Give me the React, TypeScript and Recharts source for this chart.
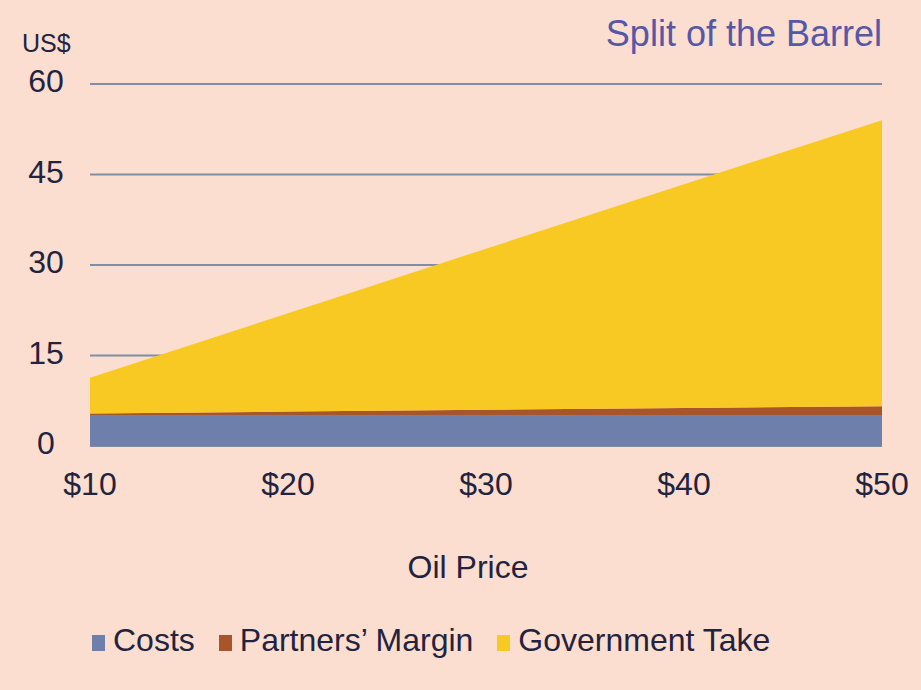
import React from "react";
import {
  AreaChart,
  Area,
  XAxis,
  YAxis,
  CartesianGrid,
  Legend,
  Label,
} from "recharts";

const oilPrices = [10, 20, 30, 40, 50];
const costs = [5, 5, 5, 5, 5];
const partnersMargin = [0.4, 0.7, 1.0, 1.3, 1.6];
const governmentTake = [5.9, 16.3, 26.7, 37.1, 47.4];
const yTicks = [0, 15, 30, 45, 60];

const seriesNames = ["Costs", "Partners\u2019 Margin", "Government Take"];
const seriesColors = ["#6f7fab", "#a8552b", "#f8c823"];

const data = oilPrices.map((p, i) => ({
  price: p,
  costs: costs[i],
  partners: partnersMargin[i],
  government: governmentTake[i],
}));

const FONT = "'Liberation Sans', Arial, sans-serif";
const TEXT = "#23233f";
const BG = "#fbdecf";

function YTick(props: any) {
  const { y, payload } = props;
  return (
    <text
      x={46}
      y={y - 3}
      textAnchor="middle"
      dominantBaseline="central"
      fontSize={32}
      fontFamily={FONT}
      fill={TEXT}
    >
      {payload.value}
    </text>
  );
}

function XTick(props: any) {
  const { x, y, payload } = props;
  return (
    <text
      x={x}
      y={y + 30}
      textAnchor="middle"
      dominantBaseline="central"
      fontSize={32}
      fontFamily={FONT}
      fill={TEXT}
    >
      {"$" + payload.value}
    </text>
  );
}

function LegendContent() {
  return (
    <div
      style={{
        height: 40,
        display: "flex",
        alignItems: "center",
        paddingLeft: 92,
        fontFamily: FONT,
        fontSize: 32,
        color: TEXT,
        whiteSpace: "nowrap",
      }}
    >
      {seriesNames.map((name, i) => (
        <div
          key={name}
          style={{ display: "flex", alignItems: "center", marginRight: 24 }}
        >
          <span
            style={{
              display: "inline-block",
              width: 13,
              height: 16,
              background: seriesColors[i],
              marginRight: 8,
              marginTop: 6,
            }}
          />
          <span>{name}</span>
        </div>
      ))}
    </div>
  );
}

export default function App() {
  return (
    <div
      style={{
        position: "absolute",
        left: 0,
        top: 0,
        width: 921,
        height: 690,
        background: BG,
      }}
    >
      <div
        style={{
          position: "absolute",
          right: 39,
          top: 12,
          fontFamily: FONT,
          fontSize: 36,
          color: "#5557a8",
          lineHeight: "44px",
        }}
      >
        Split of the Barrel
      </div>
      <div
        style={{
          position: "absolute",
          left: 22,
          top: 28,
          fontFamily: FONT,
          fontSize: 25,
          color: TEXT,
          lineHeight: "30px",
        }}
      >
        US$
      </div>
      <AreaChart
        width={921}
        height={690}
        data={data}
        margin={{ top: 84, right: 39, left: 0, bottom: 30 }}
      >
        <CartesianGrid
          vertical={false}
          stroke="#7f8ea5"
          strokeWidth={2}
        />
        <XAxis
          dataKey="price"
          type="number"
          domain={[10, 50]}
          ticks={oilPrices}
          axisLine={false}
          tickLine={false}
          height={174}
          tick={<XTick />}
        >
          <Label
            value="Oil Price"
            position="insideBottom"
            offset={42}
            dx={-18}
            fontSize={32}
            fontFamily={FONT}
            fill={TEXT}
          />
        </XAxis>
        <YAxis
          domain={[0, 60]}
          ticks={yTicks}
          axisLine={false}
          tickLine={false}
          width={90}
          tick={<YTick />}
        />
        <Legend
          verticalAlign="bottom"
          content={<LegendContent />}
          wrapperStyle={{ height: 40 }}
        />
        <Area
          type="linear"
          dataKey="costs"
          name={seriesNames[0]}
          stackId="1"
          stroke="none"
          fill={seriesColors[0]}
          fillOpacity={1}
          isAnimationActive={false}
        />
        <Area
          type="linear"
          dataKey="partners"
          name={seriesNames[1]}
          stackId="1"
          stroke="none"
          fill={seriesColors[1]}
          fillOpacity={1}
          isAnimationActive={false}
        />
        <Area
          type="linear"
          dataKey="government"
          name={seriesNames[2]}
          stackId="1"
          stroke="none"
          fill={seriesColors[2]}
          fillOpacity={1}
          isAnimationActive={false}
        />
      </AreaChart>
    </div>
  );
}
